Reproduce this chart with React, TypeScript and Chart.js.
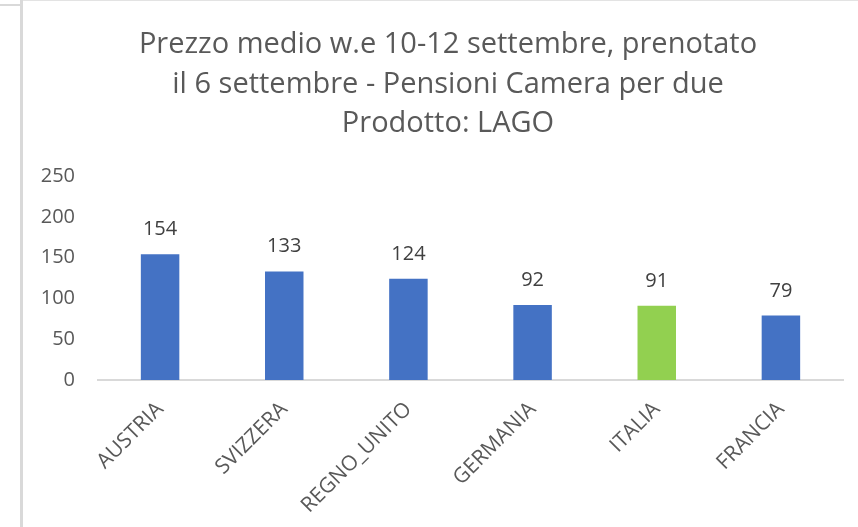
import React, { useEffect, useRef } from "react";
import { Chart, registerables } from "chart.js";

Chart.register(...registerables);

const categories = ["AUSTRIA", "SVIZZERA", "REGNO_UNITO", "GERMANIA", "ITALIA", "FRANCIA"];
const values = [154, 133, 124, 92, 91, 79];
const barColors = ["#4472C4", "#4472C4", "#4472C4", "#4472C4", "#92D050", "#4472C4"];
const titleLines = [
  "Prezzo medio w.e 10-12 settembre, prenotato",
  "il 6 settembre - Pensioni Camera per due",
  "Prodotto: LAGO",
];
const yMin = 0;
const yMax = 250;
const yStep = 50;

const FONT = "'Open Sans', 'Noto Sans', sans-serif";

const valueLabels = {
  id: "valueLabels",
  afterDatasetsDraw(chart: any) {
    const ctx = chart.ctx;
    const meta = chart.getDatasetMeta(0);
    ctx.save();
    ctx.fillStyle = "#404040";
    ctx.font = `20px ${FONT}`;
    ctx.textAlign = "center";
    ctx.textBaseline = "alphabetic";
    meta.data.forEach((el: any, i: number) => {
      const v = chart.data.datasets[0].data[i];
      ctx.fillText(String(v), el.x, el.y - 19);
    });
    ctx.restore();
  },
};

// Title drawn centred on the full chart object (which extends past the window)
const centeredTitle = {
  id: "centeredTitle",
  afterDraw(chart: any) {
    const ctx = chart.ctx;
    ctx.save();
    ctx.fillStyle = "#595959";
    ctx.font = `29px ${FONT}`;
    ctx.textAlign = "center";
    ctx.textBaseline = "middle";
    const cx = chart.width / 2 + 1;
    const lh = 39.5;
    titleLines.forEach((line, i) => {
      ctx.fillText(line, cx, 25 + lh / 2 + i * lh);
    });
    ctx.restore();
  },
};

export default function App() {
  const ref = useRef<HTMLCanvasElement | null>(null);
  useEffect(() => {
    if (!ref.current) return;
    const chart = new Chart(ref.current, {
      type: "bar",
      data: {
        labels: categories,
        datasets: [
          {
            data: values,
            backgroundColor: barColors,
            borderWidth: 0,
            categoryPercentage: 1,
            barPercentage: 0.31,
          },
        ],
      },
      options: {
        animation: false,
        responsive: false,
        maintainAspectRatio: false,
        layout: { padding: { left: 18, right: 29, top: 176, bottom: 0 } },
        plugins: {
          legend: { display: false },
          tooltip: { enabled: false },
          title: { display: false },
        },
        scales: {
          x: {
            grid: { display: false, drawTicks: false },
            border: { display: true, color: "#d9d9d9", width: 2 },
            ticks: {
              color: "#595959",
              font: { family: FONT, size: 21 },
              minRotation: 45,
              maxRotation: 45,
              padding: 17,
            },
            afterFit(scale: any) {
              scale.height = 147;
            },
          },
          y: {
            min: yMin,
            max: yMax,
            grid: { display: false, drawTicks: false },
            border: { display: false },
            ticks: {
              stepSize: yStep,
              color: "#595959",
              font: { family: FONT, size: 20 },
              padding: 23,
            },
            afterFit(scale: any) {
              scale.width = 58;
            },
          },
        },
      },
      plugins: [valueLabels, centeredTitle],
    });
    return () => chart.destroy();
  }, []);

  return (
    <div
      style={{
        position: "fixed",
        left: 0,
        top: 0,
        width: 858,
        height: 527,
        overflow: "hidden",
        background: "#ffffff",
      }}
    >
      <div style={{ position: "absolute", left: 0, top: 4, width: 20, height: 2, background: "#d9d9d9" }} />
      <div style={{ position: "absolute", left: 20, top: 0, width: 3, height: 527, background: "#d9d9d9" }} />
      <div style={{ position: "absolute", left: 23, top: 0, width: 835, height: 1, background: "#e3e3e3" }} />
      <canvas
        ref={ref}
        width={850}
        height={527}
        style={{ position: "absolute", left: 22, top: 0, width: 850, height: 527 }}
      />
    </div>
  );
}
